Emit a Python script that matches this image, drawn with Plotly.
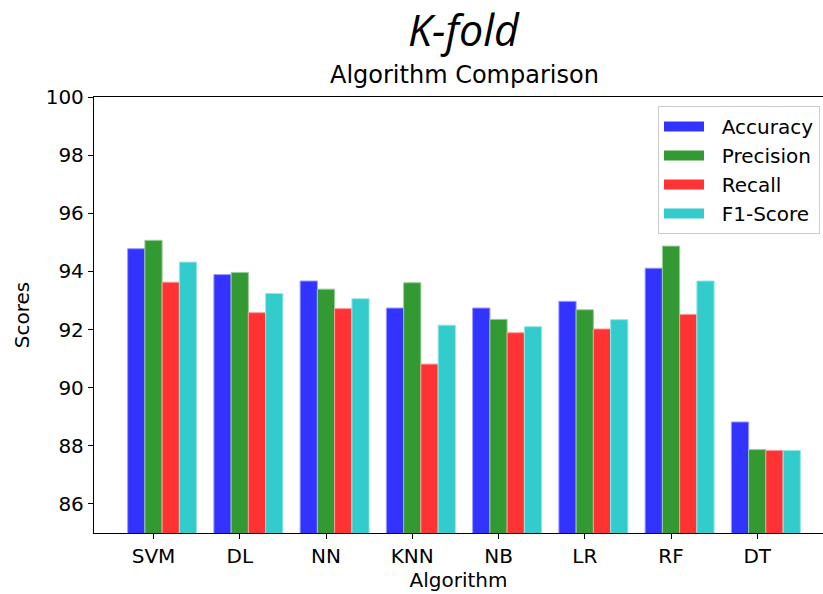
import plotly.graph_objects as go

algorithms = ["SVM", "DL", "NN", "KNN", "NB", "LR", "RF", "DT"]
accuracy = [94.78, 93.89, 93.67, 92.74, 92.74, 92.97, 94.11, 88.82]
precision = [95.07, 93.96, 93.39, 93.61, 92.35, 92.68, 94.87, 87.87]
recall = [93.63, 92.58, 92.72, 90.81, 91.89, 92.02, 92.52, 87.84]
f1_score = [94.32, 93.24, 93.06, 92.15, 92.10, 92.34, 93.67, 87.84]

series = [
    ("Accuracy", accuracy, "#3333ff", "#9999ff"),
    ("Precision", precision, "#339933", "#99cc99"),
    ("Recall", recall, "#ff3333", "#ff9999"),
    ("F1-Score", f1_score, "#33cccc", "#99e5e5"),
]
bar_w = 0.2
positions = list(range(len(algorithms)))

W, H = 823, 594
L, R, T, B = 94, 0, 97, 61
ph = H - T - B
pw = W - L - R

font = "DejaVu Sans, Verdana, sans-serif"
fig = go.Figure()
for i, (name, vals, col, edge) in enumerate(series):
    fig.add_trace(go.Bar(x=positions, y=vals, name=name, marker_color=col,
                         width=bar_w, offset=(i - 1.5) * bar_w,
                         marker_line=dict(color=edge, width=1), showlegend=False))
for name, vals, col, edge in series:
    fig.add_trace(go.Scatter(x=[None], y=[None], mode="lines",
                             name="\u00a0\u00a0" + name,
                             line=dict(color=col, width=15), showlegend=True))

fig.update_layout(
    width=W, height=H,
    margin=dict(l=L, r=R, t=T, b=B),
    paper_bgcolor="white", plot_bgcolor="white",
    barmode="overlay",
    font=dict(family=font, size=20, color="black"),
    legend=dict(x=(658 - L) / pw, y=1 - (106 - T) / ph, xanchor="left", yanchor="top",
                bordercolor="#cccccc", borderwidth=1, bgcolor="white",
                font=dict(size=20), itemwidth=40, tracegroupgap=0),
    showlegend=True,
)
fig.update_xaxes(
    range=[-0.69, -0.69 + pw / 86.25],
    tickvals=positions, ticktext=algorithms,
    showline=True, linecolor="black", linewidth=1.3, mirror=True,
    ticks="outside", ticklen=5, tickcolor="black", showgrid=False, zeroline=False,
    title=dict(text="Algorithm", font=dict(size=20), standoff=4),
)
fig.update_yaxes(
    range=[85, 100], tickvals=[86, 88, 90, 92, 94, 96, 98, 100],
    showline=True, linecolor="black", linewidth=1.3,
    ticks="outside", ticklen=5, tickcolor="black", showgrid=False, zeroline=False,
    title=dict(text="Scores", font=dict(size=20), standoff=10),
)
fig.add_annotation(text="<i>K-fold</i>", xref="paper", yref="paper",
                   x=(464 - L) / pw, y=1 + (T - 29) / ph,
                   xanchor="center", yanchor="middle", showarrow=False,
                   font=dict(size=43, family="Open Sans, Noto Sans, sans-serif"))
fig.add_annotation(text="Algorithm Comparison", xref="paper", yref="paper",
                   x=(464 - L) / pw, y=1 + (T - 75) / ph,
                   xanchor="center", yanchor="middle", showarrow=False,
                   font=dict(size=24, family=font))

fig.write_html("out.html", config={"displayModeBar": False},
               post_script="document.body.style.margin='0';")
